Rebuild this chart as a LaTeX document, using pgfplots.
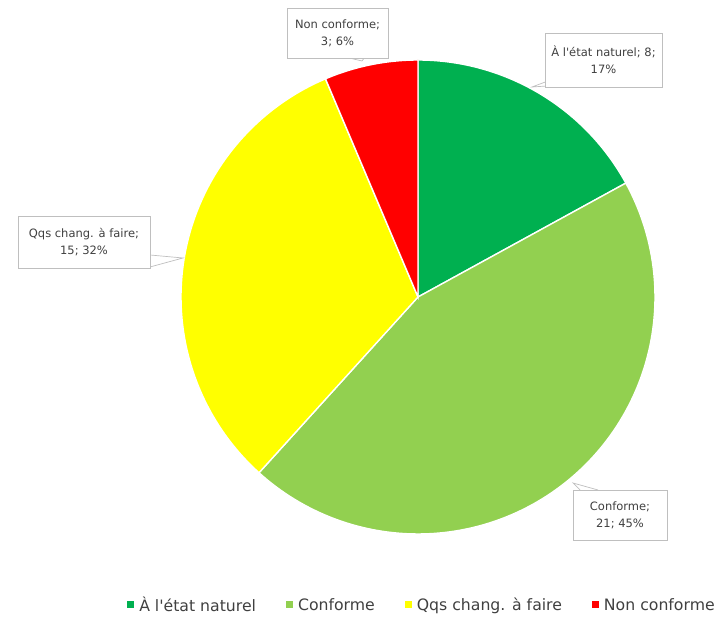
\documentclass[border=0pt]{standalone}
\usepackage{pgfplots}
\usepackage{pgfplotstable}
\pgfplotsset{compat=1.18}
\usepackage{fontspec}
\setmainfont{DejaVu Sans}[Ligatures=TeXOff]
\definecolor{cA}{HTML}{00B050}
\definecolor{cB}{HTML}{92D050}
\definecolor{cC}{HTML}{FFFF00}
\definecolor{cD}{HTML}{FF0000}
\definecolor{boxgray}{HTML}{BFBFBF}
\definecolor{txt}{HTML}{404040}
\pgfplotstableread{
value
8
21
15
3
}\piedata
\begin{document}
\begin{tikzpicture}
\pgfplotstablegetelem{0}{value}\of\piedata\edef\va{\pgfplotsretval}
\pgfplotstablegetelem{1}{value}\of\piedata\edef\vb{\pgfplotsretval}
\pgfplotstablegetelem{2}{value}\of\piedata\edef\vc{\pgfplotsretval}
\pgfplotstablegetelem{3}{value}\of\piedata\edef\vd{\pgfplotsretval}
\pgfmathsetmacro\tot{\va+\vb+\vc+\vd}
\pgfmathsetmacro\aA{90}
\pgfmathsetmacro\aB{90-360*\va/\tot}
\pgfmathsetmacro\aC{\aB-360*\vb/\tot}
\pgfmathsetmacro\aD{\aC-360*\vc/\tot}
\pgfmathsetmacro\aE{\aD-360*\vd/\tot}
\def\cx{418}\def\cy{320}\def\R{237}
\begin{axis}[
  x=1pt, y=1pt, xmin=0, xmax=721, ymin=0, ymax=617,
  hide axis, clip=false, scale only axis,
  legend columns=4,
  legend style={at={(axis cs:421,12)}, anchor=center, draw=none, fill=none,
    font=\fontsize{15.7}{18}\selectfont\color{txt},
    /tikz/every even column/.append style={column sep=30pt},
    inner sep=0pt, nodes={inner xsep=0pt}},
  legend image code/.code={\fill[#1, draw=none] (0pt,-3.5pt) rectangle (7pt,3.5pt); \path[draw=none, fill=none] (0pt,0pt) -- (12pt,0pt);},
]
\path (axis cs:0,0) rectangle (axis cs:721,617);
\addplot[fill=cA, draw=white, line width=1.4pt, domain=\aA:\aB, samples=80, variable=\t]
  ({\cx+\R*cos(\t)},{\cy+\R*sin(\t)}) -- (axis cs:\cx,\cy) -- cycle;
\addlegendentry{À l'état naturel}
\addplot[fill=cB, draw=white, line width=1.4pt, domain=\aB:\aC, samples=120, variable=\t]
  ({\cx+\R*cos(\t)},{\cy+\R*sin(\t)}) -- (axis cs:\cx,\cy) -- cycle;
\addlegendentry{Conforme}
\addplot[fill=cC, draw=white, line width=1.4pt, domain=\aC:\aD, samples=100, variable=\t]
  ({\cx+\R*cos(\t)},{\cy+\R*sin(\t)}) -- (axis cs:\cx,\cy) -- cycle;
\addlegendentry{Qqs chang. à faire}
\addplot[fill=cD, draw=white, line width=1.4pt, domain=\aD:\aE, samples=30, variable=\t]
  ({\cx+\R*cos(\t)},{\cy+\R*sin(\t)}) -- (axis cs:\cx,\cy) -- cycle;
\addlegendentry{Non conforme}
% callout labels
\tikzset{lbl/.style={draw=boxgray, fill=white, align=center, font=\fontsize{11.5}{17}\selectfont\color{txt}, inner sep=0pt, line width=0.7pt}}
% green
\draw[boxgray, line width=0.7pt, fill=white] (axis cs:548,536) -- (axis cs:532,530) -- (axis cs:562,532);
\node[lbl, minimum width=117pt, minimum height=54pt] at (axis cs:603.5,557) {À l'état naturel; 8;\\17\%};
% red
\draw[boxgray, line width=0.7pt, fill=white] (axis cs:345,560) -- (axis cs:362,556) -- (axis cs:365,560);
\node[lbl, minimum width=101pt, minimum height=50pt] at (axis cs:337.5,584) {Non conforme;\\3; 6\%};
% yellow
\draw[boxgray, line width=0.7pt, fill=white] (axis cs:150,362) -- (axis cs:183,359) -- (axis cs:150,350);
\node[lbl, minimum width=132pt, minimum height=52pt] at (axis cs:84,375) {Qqs chang. à faire;\\15; 32\%};
% light green
\draw[boxgray, line width=0.7pt, fill=white] (axis cs:580,127) -- (axis cs:573,134) -- (axis cs:598,127);
\node[lbl, minimum width=94pt, minimum height=50pt] at (axis cs:620,102) {Conforme;\\21; 45\%};
\end{axis}
\end{tikzpicture}
\end{document}
